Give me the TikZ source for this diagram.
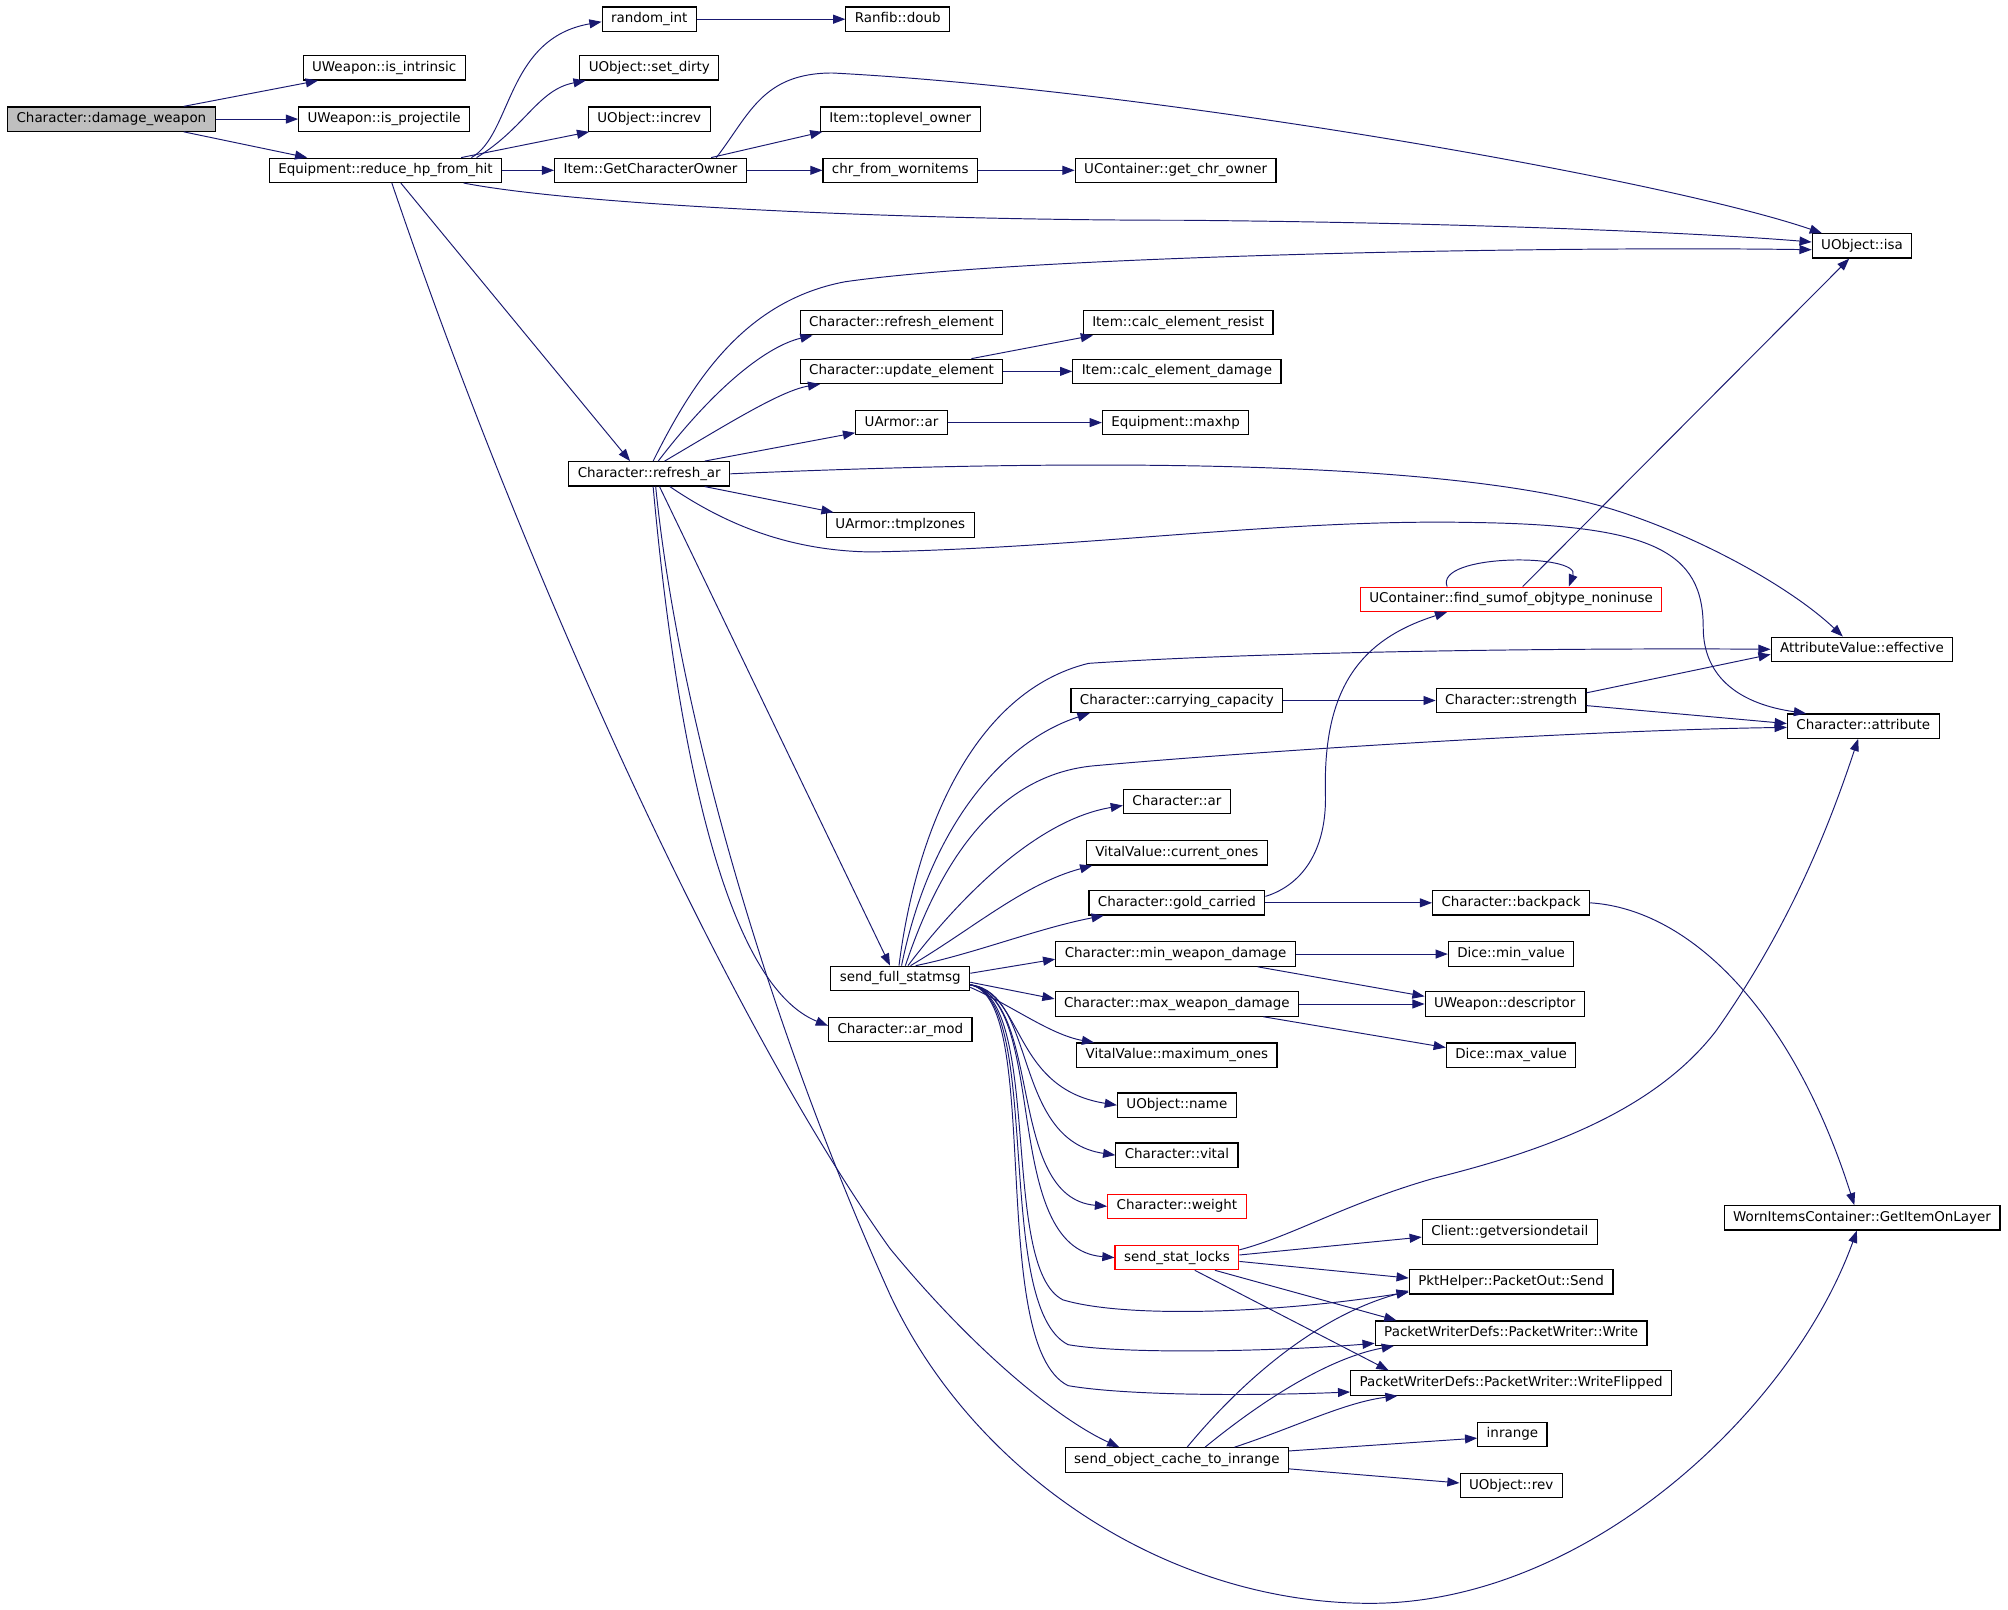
\documentclass[tikz,border=0pt]{standalone}
\usepackage{fontspec}
\setmainfont{DejaVu Sans}
\usetikzlibrary{arrows.meta}
\definecolor{callblue}{HTML}{191970}
\definecolor{rootgray}{HTML}{BFBFBF}
\tikzset{
    func/.style={draw=black,line width=0.9pt,fill=white,inner xsep=7pt,inner ysep=0pt,
                 minimum height=19pt,text height=8pt,text depth=2.5pt,font=\fontsize{10.5}{12}\selectfont},
    root/.style={func,fill=rootgray},
    trunc/.style={func,draw=red},
    call/.style={draw=callblue,line width=0.75pt,-{Triangle[length=9.5pt,width=7pt]}}
}
\begin{document}
\begin{tikzpicture}[x=1pt,y=-1pt]
            \path[use as bounding box,fill=white] ( 0,0 ) rectangle ( 1568,1257 );
            \node[root] (damage) at ( 87,93 ) {Character::damage\_weapon};
            \node[func] (intrinsic) at ( 300,53 ) {UWeapon::is\_intrinsic};
            \node[func] (projectile) at ( 300,93 ) {UWeapon::is\_projectile};
            \node[func] (reduce) at ( 301,133 ) {Equipment::reduce\_hp\_from\_hit};
            \node[func] (random) at ( 507,15 ) {random\_int};
            \node[func] (setdirty) at ( 507,53 ) {UObject::set\_dirty};
            \node[func] (increv) at ( 507,93 ) {UObject::increv};
            \node[func] (gco) at ( 508,133 ) {Item::GetCharacterOwner};
            \node[func] (refreshar) at ( 507,370 ) {Character::refresh\_ar};
            \node[func] (doub) at ( 701,15 ) {Ranfib::doub};
            \node[func] (toplevel) at ( 703,93 ) {Item::toplevel\_owner};
            \node[func] (chrworn) at ( 703,133 ) {chr\_from\_wornitems};
            \node[func] (refreshel) at ( 704,252 ) {Character::refresh\_element};
            \node[func] (updateel) at ( 704,290 ) {Character::update\_element};
            \node[func] (uarmorar) at ( 704,330 ) {UArmor::ar};
            \node[func] (tmplzones) at ( 703,410 ) {UArmor::tmplzones};
            \node[func] (sendfull) at ( 703,764 ) {send\_full\_statmsg};
            \node[func] (armod) at ( 703,804 ) {Character::ar\_mod};
            \node[func] (getchrowner) at ( 918,133 ) {UContainer::get\_chr\_owner};
            \node[func] (calcresist) at ( 920,252 ) {Item::calc\_element\_resist};
            \node[func] (calcdamage) at ( 919,290 ) {Item::calc\_element\_damage};
            \node[func] (maxhp) at ( 918,330 ) {Equipment::maxhp};
            \node[func] (carrying) at ( 919,547 ) {Character::carrying\_capacity};
            \node[func] (charar) at ( 919,626 ) {Character::ar};
            \node[func] (curones) at ( 919,666 ) {VitalValue::current\_ones};
            \node[func] (gold) at ( 919,705 ) {Character::gold\_carried};
            \node[func] (minweapon) at ( 918,745 ) {Character::min\_weapon\_damage};
            \node[func] (maxweapon) at ( 919,784 ) {Character::max\_weapon\_damage};
            \node[func] (maxones) at ( 919,824 ) {VitalValue::maximum\_ones};
            \node[func] (uname) at ( 919,863 ) {UObject::name};
            \node[func] (vital) at ( 919,902 ) {Character::vital};
            \node[trunc] (weight) at ( 919,942 ) {Character::weight};
            \node[trunc] (statlocks) at ( 919,982 ) {send\_stat\_locks};
            \node[func] (objcache) at ( 919,1140 ) {send\_object\_cache\_to\_inrange};
            \node[trunc] (findsumof) at ( 1180,468 ) {UContainer::find\_sumof\_objtype\_noninuse};
            \node[func] (strength) at ( 1180,547 ) {Character::strength};
            \node[func] (backpack) at ( 1180,705 ) {Character::backpack};
            \node[func] (minvalue) at ( 1180,745 ) {Dice::min\_value};
            \node[func] (descriptor) at ( 1175,784 ) {UWeapon::descriptor};
            \node[func] (maxvalue) at ( 1180,824 ) {Dice::max\_value};
            \node[func] (getversion) at ( 1179,962 ) {Client::getversiondetail};
            \node[func] (pktsend) at ( 1180,1001 ) {PktHelper::PacketOut::Send};
            \node[func] (pwwrite) at ( 1180,1041 ) {PacketWriterDefs::PacketWriter::Write};
            \node[func] (pwflipped) at ( 1180,1080 ) {PacketWriterDefs::PacketWriter::WriteFlipped};
            \node[func] (inrange) at ( 1181,1120 ) {inrange};
            \node[func] (objrev) at ( 1180,1160 ) {UObject::rev};
            \node[func] (isa) at ( 1454,192 ) {UObject::isa};
            \node[func] (effective) at ( 1454,507 ) {AttributeValue::effective};
            \node[func] (attribute) at ( 1455,567 ) {Character::attribute};
            \node[func] (wornitems) at ( 1454,951 ) {WornItemsContainer::GetItemOnLayer};

            \draw[call] ([xshift=-25pt]damage.north east) -- ([xshift=12pt]intrinsic.south west);
            \draw[call] (damage) -- (projectile);
            \draw[call] ([xshift=-25pt]damage.south east) -- ([xshift=30pt]reduce.north west);

            \draw[call] ([xshift=-24pt]reduce.north east) .. controls ( 400,105 ) and ( 395,30 ) .. ([yshift=-2pt]random.west);
            \draw[call] ([xshift=-20pt]reduce.north east) .. controls ( 410,100 ) and ( 420,70 ) .. ([xshift=5pt]setdirty.south west);
            \draw[call] ([xshift=-32pt]reduce.north east) -- ([xshift=1pt]increv.south west);
            \draw[call] (reduce) -- (gco);
            \draw[call] ([xshift=-30pt]reduce.south east) .. controls ( 450,160 ) and ( 700,172 ) .. ( 924,172 )
                    .. controls ( 1150,174 ) and ( 1330,182 ) .. ([yshift=3pt]isa.west);
            \draw[call] ([xshift=12pt]reduce.south) -- ([xshift=-15pt]refreshar.north);
            \draw[call] ([xshift=5pt]reduce.south) .. controls ( 410,450 ) and ( 570,800 ) .. ( 695,975 )
                    .. controls ( 765,1060 ) and ( 830,1110 ) .. ([xshift=-45pt]objcache.north);

            \draw[call] (random) -- (doub);
            \draw[call] ([xshift=-28pt]gco.north east) -- ([xshift=2pt]toplevel.south west);
            \draw[call] (gco) -- (chrworn);
            \draw[call] ([xshift=-24pt]gco.north east) .. controls ( 585,90 ) and ( 595,57 ) .. ( 650,57 )
                    .. controls ( 900,70 ) and ( 1300,140 ) .. ([xshift=8pt]isa.north west);
            \draw[call] (chrworn) -- (getchrowner);

            \draw[call] ([xshift=3pt]refreshar.north) .. controls ( 540,300 ) and ( 580,235 ) .. ( 660,220 )
                    .. controls ( 800,200 ) and ( 1200,192 ) .. ([yshift=-3pt]isa.west);
            \draw[call] ([xshift=7pt]refreshar.north) .. controls ( 560,300 ) and ( 600,270 ) .. ([xshift=10pt]refreshel.south west);
            \draw[call] ([xshift=12pt]refreshar.north) .. controls ( 570,330 ) and ( 610,305 ) .. ([xshift=16pt]updateel.south west);
            \draw[call] ([xshift=-20pt]refreshar.north east) -- ([yshift=2pt]uarmorar.south west);
            \draw[call] (refreshar.east) .. controls ( 800,360 ) and ( 1120,355 ) .. ( 1260,398 )
                    .. controls ( 1330,420 ) and ( 1400,460 ) .. ([xshift=-15pt]effective.north);
            \draw[call] ([xshift=-20pt]refreshar.south east) -- ([xshift=6pt]tmplzones.north west);
            \draw[call] ([xshift=16pt]refreshar.south) .. controls ( 560,405 ) and ( 610,430 ) .. ( 680,431 )
                    .. controls ( 850,428 ) and ( 1000,405 ) .. ( 1150,408 )
                    .. controls ( 1290,410 ) and ( 1330,430 ) .. ( 1330,490 )
                    .. controls ( 1330,530 ) and ( 1360,550 ) .. ([xshift=15pt]attribute.north west);
            \draw[call] ([xshift=8pt]refreshar.south) -- ([xshift=-8pt]sendfull.north);
            \draw[call] ([xshift=3pt]refreshar.south) .. controls ( 530,600 ) and ( 570,770 ) .. ([yshift=3pt]armod.west);
            \draw[call] ([xshift=5pt]refreshar.south) .. controls ( 530,560 ) and ( 600,800 ) .. ( 695,1011 )
                    .. controls ( 760,1150 ) and ( 910,1252 ) .. ( 1070,1252 )
                    .. controls ( 1240,1252 ) and ( 1400,1100 ) .. ([xshift=-4pt]wornitems.south);

            \draw[call] ([xshift=-25pt]updateel.north east) -- ([xshift=8pt]calcresist.south west);
            \draw[call] (updateel) -- (calcdamage);
            \draw[call] (uarmorar) -- (maxhp);

            \draw[call] ([xshift=-50pt]findsumof.north) .. controls ( 1120,432 ) and ( 1235,432 ) .. ([xshift=45pt]findsumof.north);
            \draw[call] ([xshift=9pt]findsumof.north) -- ([xshift=-10pt]isa.south);

            \draw[call] (carrying) -- (strength);
            \draw[call] ([yshift=6pt]strength.east) -- ([yshift=-4pt]effective.west);
            \draw[call] ([yshift=-4pt]strength.east) -- ([yshift=2pt]attribute.west);
            \draw[call] ([yshift=5pt]gold.east) .. controls ( 1020,690 ) and ( 1036,660 ) .. ( 1035,620 )
                    .. controls ( 1033,540 ) and ( 1060,500 ) .. ([xshift=-50pt]findsumof.south);
            \draw[call] (gold) -- (backpack);
            \draw[call] (backpack.east) .. controls ( 1320,710 ) and ( 1400,790 ) .. ([xshift=-6pt]wornitems.north);
            \draw[call] (minweapon) -- (minvalue);
            \draw[call] ([xshift=-30pt]minweapon.south east) -- ([yshift=6pt]descriptor.west);
            \draw[call] (maxweapon.east) -- (descriptor.west);
            \draw[call] ([xshift=-28pt]maxweapon.south east) -- ([yshift=6pt]maxvalue.west);

            \draw[call] ([xshift=-1pt]sendfull.north) .. controls ( 715,650 ) and ( 760,540 ) .. ( 850,518 )
                    .. controls ( 1000,508 ) and ( 1250,506 ) .. (effective.west);
            \draw[call] ([xshift=1pt]sendfull.north) .. controls ( 725,650 ) and ( 780,580 ) .. ([xshift=15pt]carrying.south west);
            \draw[call] ([xshift=4pt]sendfull.north) .. controls ( 735,670 ) and ( 780,605 ) .. ( 854,598 )
                    .. controls ( 1000,585 ) and ( 1250,570 ) .. ([yshift=-1pt]attribute.west);
            \draw[call] ([xshift=6pt]sendfull.north) .. controls ( 750,700 ) and ( 810,640 ) .. ([yshift=-3pt]charar.west);
            \draw[call] ([xshift=8pt]sendfull.north) .. controls ( 760,725 ) and ( 800,690 ) .. ([xshift=5pt]curones.south west);
            \draw[call] ([xshift=12pt]sendfull.north) .. controls ( 760,745 ) and ( 810,725 ) .. ([xshift=12pt]gold.south west);
            \draw[call] ([yshift=4pt]sendfull.east) -- ([yshift=-4pt]minweapon.west);
            \draw[call] ([yshift=-3pt]sendfull.east) -- ([yshift=4pt]maxweapon.west);
            \draw[call] ([yshift=-7pt]sendfull.east) .. controls ( 790,785 ) and ( 820,808 ) .. ([xshift=14pt]maxones.north west);
            \draw[call] ([yshift=-5pt]sendfull.east) .. controls ( 800,775 ) and ( 790,850 ) .. (uname.west);
            \draw[call] ([yshift=-5pt]sendfull.east) .. controls ( 810,775 ) and ( 790,890 ) .. (vital.west);
            \draw[call] ([yshift=-5pt]sendfull.east) .. controls ( 815,780 ) and ( 785,935 ) .. (weight.west);
            \draw[call] ([yshift=-5pt]sendfull.east) .. controls ( 820,780 ) and ( 780,975 ) .. (statlocks.west);
            \draw[call] ([yshift=-5pt]sendfull.east) .. controls ( 815,780 ) and ( 780,990 ) .. ( 830,1015 )
                    .. controls ( 880,1030 ) and ( 1000,1025 ) .. ([yshift=2pt]pktsend.south west);
            \draw[call] ([yshift=-5pt]sendfull.east) .. controls ( 815,780 ) and ( 775,1020 ) .. ( 834,1050 )
                    .. controls ( 880,1058 ) and ( 1000,1055 ) .. ([yshift=2pt]pwwrite.south west);
            \draw[call] ([yshift=-5pt]sendfull.east) .. controls ( 815,780 ) and ( 770,1050 ) .. ( 834,1082 )
                    .. controls ( 880,1090 ) and ( 980,1090 ) .. ([yshift=3pt]pwflipped.south west);

            \draw[call] ([yshift=6pt]statlocks.east) .. controls ( 1010,965 ) and ( 1050,940 ) .. ( 1120,920 )
                    .. controls ( 1200,900 ) and ( 1290,870 ) .. ( 1340,805 )
                    .. controls ( 1400,720 ) and ( 1430,640 ) .. ([xshift=-4pt]attribute.south);
            \draw[call] ([yshift=2pt]statlocks.east) -- ([yshift=-4pt]getversion.west);
            \draw[call] ([yshift=-3pt]statlocks.east) -- ([yshift=3pt]pktsend.west);
            \draw[call] ([xshift=-19pt]statlocks.south east) -- ([xshift=17pt]pwwrite.north west);
            \draw[call] ([xshift=14pt]statlocks.south) -- ([xshift=30pt]pwflipped.north west);

            \draw[call] ([xshift=8pt]objcache.north) .. controls ( 960,1090 ) and ( 1020,1030 ) .. ([yshift=3pt]pktsend.south west);
            \draw[call] ([xshift=22pt]objcache.north) .. controls ( 990,1090 ) and ( 1040,1060 ) .. ([xshift=15pt]pwwrite.south west);
            \draw[call] ([xshift=45pt]objcache.north) .. controls ( 1010,1115 ) and ( 1050,1095 ) .. ([xshift=37pt]pwflipped.south west);
            \draw[call] ([yshift=7pt]objcache.east) -- ([yshift=-3pt]inrange.west);
            \draw[call] ([yshift=-7pt]objcache.east) -- ([yshift=2pt]objrev.west);
\end{tikzpicture}
\end{document}
